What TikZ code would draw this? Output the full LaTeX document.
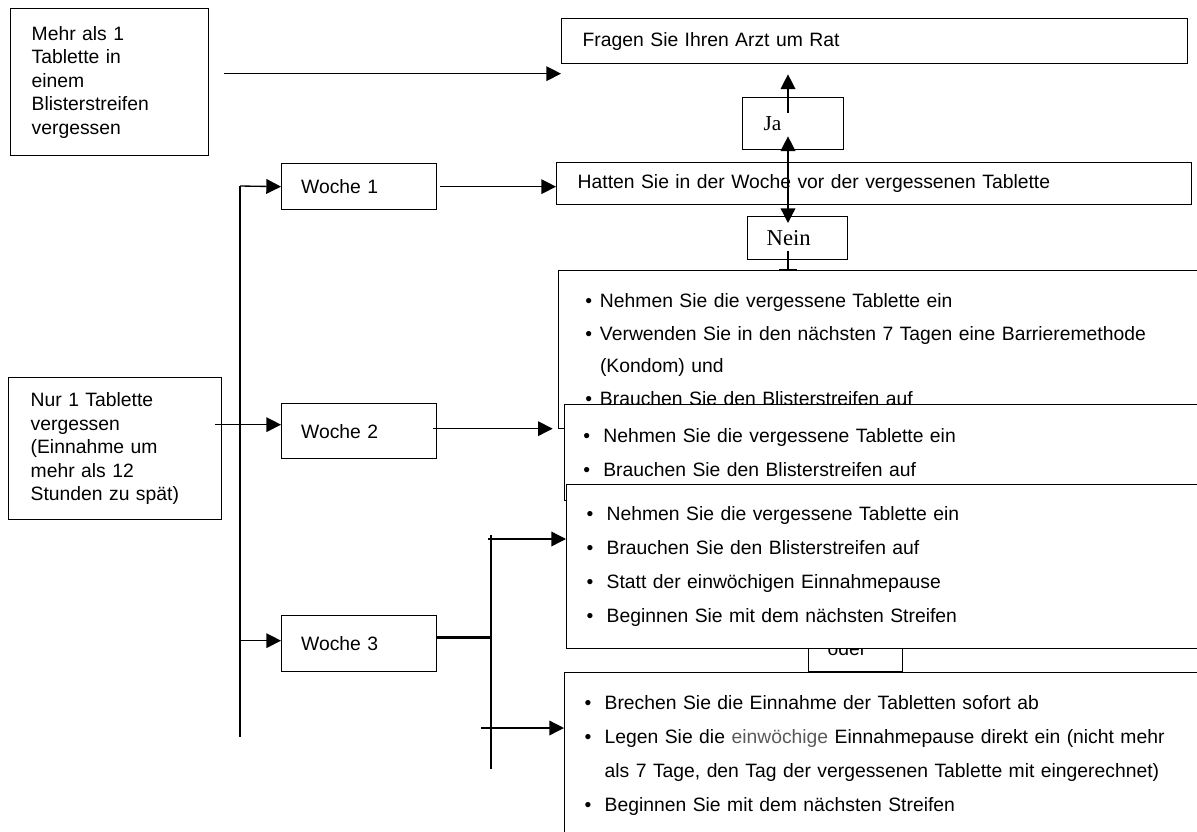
\documentclass[tikz,border=0pt]{standalone}
\usepackage{fontspec}
\setmainfont{Liberation Sans}
\newfontfamily\jnfont{Liberation Serif}
\usepackage{tikz}
\usetikzlibrary{arrows.meta}
\usetikzlibrary{calc}
\definecolor{weekgray}{HTML}{5A5A5A}
\newcommand{\bul}[1][15pt]{\makebox[#1][l]{\textbullet}}
\newcommand{\hang}[1][15pt]{\hspace*{#1}}

\begin{document}
\begin{tikzpicture}[x=0.75pt, y=-0.75pt,
    box/.style={draw, line width=1pt, fill=white, anchor=north west, align=left, inner ysep=0pt, font=\fontsize{14.5}{17.6}\selectfont},
    listbox/.style={box, text width=520pt, font=\fontsize{14.5}{25.5}\selectfont},
    weekbox/.style={box, inner xsep=14.6pt, text width=87pt, minimum height=#1},
    arr/.style={-{Triangle[length=11pt,width=11pt]}, line width=1pt},
    trunk/.style={line width=2.2pt}]
        \useasboundingbox (0,0) rectangle (1197,832);
        \fill[white] (0,0) rectangle (1197,832);
        \clip (0,0) rectangle (1197,832);

        % left side
        \node[box, inner xsep=15.75pt, text width=117pt, minimum height=110.25pt] (mehr) at (10,8) {Mehr als 1\\Tablette in\\einem\\Blisterstreifen\\vergessen};
        \node[box, inner xsep=16.5pt, text width=126.75pt, minimum height=106.5pt] (nur) at (8,377) {Nur 1 Tablette\\vergessen\\(Einnahme um\\mehr als 12\\Stunden zu spät)};
        \node[weekbox=34.5pt] (woche1) at (281,163) {Woche 1};
        \node[weekbox=41.25pt] (woche2) at (281,403) {Woche 2};
        \node[weekbox=42pt] (woche3) at (281,615) {Woche 3};

        % week 1
        \node[box, inner xsep=15.75pt, text width=438pt, minimum height=33.75pt] (fragen) at (561,18) {Fragen Sie Ihren Arzt um Rat};
        \node[box, font=\jnfont\fontsize{16}{18}\selectfont, inner xsep=15.75pt, text width=44.25pt, minimum height=39pt] (ja) at (742,97) {Ja};
        \node[box, inner xsep=15.75pt, text width=444.75pt, minimum height=31.5pt] (hatten) at (556,162) {Hatten Sie in der Woche vor der vergessenen Tablette};
        \node[box, font=\jnfont\fontsize{17}{19}\selectfont, inner xsep=14.25pt, text width=46.5pt, minimum height=32.25pt] (nein) at (747,216) {Nein};
        \node[listbox, inner xsep=20pt, minimum height=118.5pt, font=\fontsize{14.5}{24.5}\selectfont] (neinlist) at (558,270) {\bul[11pt]Nehmen Sie die vergessene Tablette ein\\
            \bul[11pt]Verwenden Sie in den nächsten 7 Tagen eine Barrieremethode\\
            \hang[11pt](Kondom) und\\
            \bul[11pt]Brauchen Sie den Blisterstreifen auf};

        % week 2
        \node[listbox, inner xsep=14pt, minimum height=72pt] (w2list) at (564,404) {\bul Nehmen Sie die vergessene Tablette ein\\
            \bul Brauchen Sie den Blisterstreifen auf};

        % week 3
        \node[box, inner xsep=14.25pt, text width=42pt, minimum height=34.5pt] (oder) at (808,625) {oder};
        \node[listbox, inner xsep=15pt, minimum height=123pt] (w3weiter) at (566,484) {\bul Nehmen Sie die vergessene Tablette ein\\
            \bul Brauchen Sie den Blisterstreifen auf\\
            \bul Statt der einwöchigen Einnahmepause\\
            \bul Beginnen Sie mit dem nächsten Streifen};
        \node[listbox, inner xsep=15pt, minimum height=124.5pt] (w3pause) at (564,672) {\bul Brechen Sie die Einnahme der Tabletten sofort ab\\
            \bul Legen Sie die \textcolor{weekgray}{einwöchige} Einnahmepause direkt ein (nicht mehr\\
            \hang als 7 Tage, den Tag der vergessenen Tablette mit eingerechnet)\\
            \bul Beginnen Sie mit dem nächsten Streifen};

        \coordinate (axis) at (788,0);
        \coordinate (trunktop) at (240,186);
        \coordinate (trunkend) at (240,737);
        \coordinate (splittop) at (491,535);
        \coordinate (splitend) at (491,769);

        \draw[arr] ($(mehr.east)+(15,-8.5)$) -- ($(fragen.west |- mehr.east)+(0,-8.5)$);
        \draw[arr] ($(woche1.east)+(3,0)$) -- (hatten.west |- woche1.east);
        \draw[trunk] (trunktop) -- (trunkend);
        \draw[arr] (trunktop) -- (woche1.west);
        \draw[arr] ($(trunktop |- woche3.west)+(0,-3)$) -- ($(woche3.west)+(0,-3)$);
        \draw[arr] ($(nur.east)+(-7,-24)$) -- ($(woche2.west |- nur.east)+(0,-24)$);
        \draw[arr, shorten >=4pt] ($(woche2.east)+(-4,-2.5)$) -- ($(neinlist.west |- woche2.east)+(0,-2.5)$);
        \draw[trunk] (splittop) -- (splitend);
        \draw[trunk] ($(woche3.east)+(0,-6)$) -- ($(splittop |- woche3.east)+(0,-6)$);
        \draw[arr] ($(splittop)+(-3,4)$) -- ($(w3weiter.west |- splittop)+(0,4)$);
        \draw[arr] ($(splitend)+(-10,-41)$) -- ($(w3pause.west |- splitend)+(0,-41)$);

        \draw[arr] ($(ja.center -| axis)+(0,-11)$) -- ($(fragen.south -| axis)+(0,10)$);
        \draw[arr] ($(hatten.center -| axis)+(0,9)$) -- ($(ja.south -| axis)+(0,-14)$);
        \draw[arr] ($(hatten.center -| axis)+(0,7)$) -- ($(nein.north -| axis)+(0,7)$);
        \draw[-{Bar[width=13pt]}, line width=1pt] ($(nein.south -| axis)+(0,-9)$) -- (neinlist.north -| axis);
\end{tikzpicture}
\end{document}
